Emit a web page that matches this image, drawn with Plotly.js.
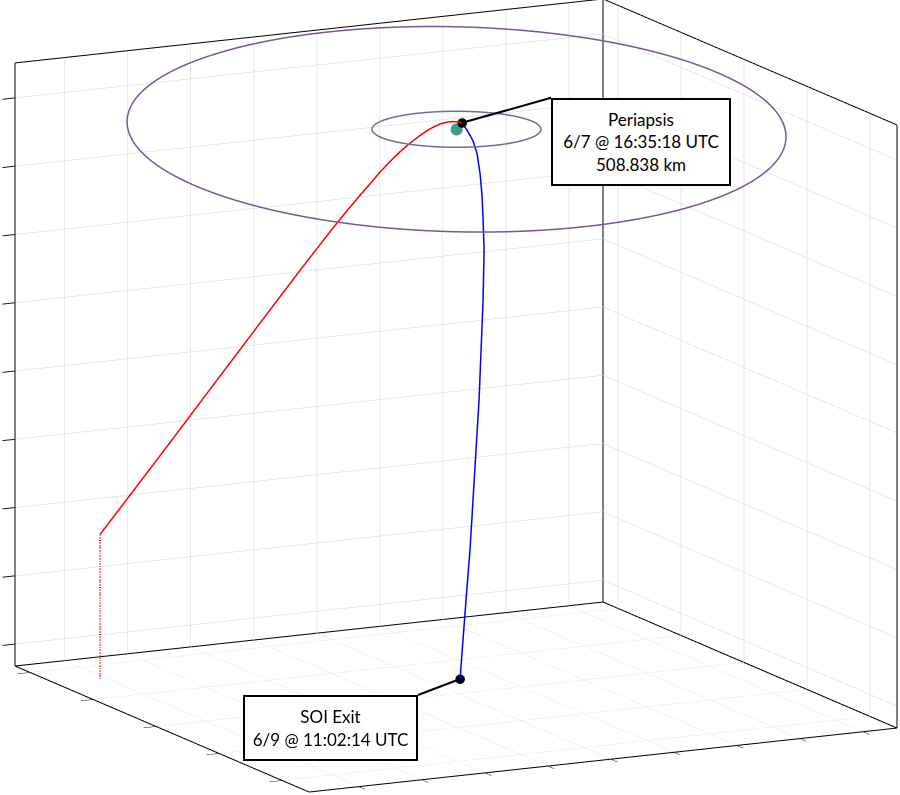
<!DOCTYPE html>
<html><head><meta charset="utf-8">
<script src="https://cdn.plot.ly/plotly-3.0.1.min.js"></script>
<style>html,body{margin:0;padding:0;background:#fff}#chart{width:900px;height:795px}</style>
</head><body><div id="chart"></div>
<script>
// Coordinates are expressed as percent of the plot box along each axis.
const xRange = [0, 100], yRange = [0, 100], zRange = [0, 100];
const xTick0 = 5.79, xDtick = 10.72;
const yTick0 = 5.1,  yDtick = 21.43;
const zTick0 = 3.64, zDtick = 11.32;

const planet    = [49.67, 49.50, 94.00];
const periapsis = [49.01, 50.07, 95.12];
const soiExit   = [43.76, 38.89, 0.00];

// inbound leg (red)
const inX = [92.60, 85.49, 78.38, 72.46, 68.91, 65.34, 63.55, 61.75, 60.55, 59.35, 58.14, 56.91, 55.68, 54.44, 53.44, 52.55, 51.78, 51.00, 50.35, 49.55, 49.01];
const inY = [14.12, 20.29, 26.49, 31.65, 34.75, 37.82, 39.34, 40.85, 41.85, 42.84, 43.83, 44.78, 45.71, 46.64, 47.35, 47.96, 48.46, 48.95, 49.33, 49.78, 50.07];
const inZ = [23.98, 37.57, 51.33, 62.75, 69.57, 76.23, 79.45, 82.54, 84.51, 86.54, 88.37, 90.06, 91.54, 92.89, 93.83, 94.49, 94.94, 95.21, 95.32, 95.28, 95.12];

// outbound leg (blue)
const outX = [49.01, 48.12, 47.37, 46.70, 46.09, 45.60, 45.24, 44.76, 44.37, 44.11, 43.85, 43.73, 43.60, 43.48, 43.48, 43.46, 43.76];
const outY = [50.07, 50.32, 50.51, 50.55, 50.35, 50.04, 49.66, 49.05, 47.93, 46.73, 45.53, 44.26, 42.98, 41.72, 40.37, 39.31, 38.89];
const outZ = [95.12, 93.59, 92.06, 89.85, 86.44, 82.68, 78.93, 73.30, 64.76, 56.22, 47.68, 39.13, 30.59, 22.05, 13.50, 6.67, 0.00];

// orbits: centre + two conjugate semi-diameters
const outerOrbitA = [-43.89, 24.29, -0.83];
const outerOrbitB = [21.27, 42.54, -5.85];
const innerOrbitA = [-11.46, 5.82, 0.00];
const innerOrbitB = [5.70, 11.39, 0.00];

function ellipse(c, a, b, n) {
  const xs = [], ys = [], zs = [];
  for (let i = 0; i <= n; i++) {
    const t = 2 * Math.PI * i / n, ct = Math.cos(t), st = Math.sin(t);
    xs.push(c[0] + a[0] * ct + b[0] * st);
    ys.push(c[1] + a[1] * ct + b[1] * st);
    zs.push(c[2] + a[2] * ct + b[2] * st);
  }
  return {xs, ys, zs};
}
const outer = ellipse(planet, outerOrbitA, outerOrbitB, 240);
const inner = ellipse(planet, innerOrbitA, innerOrbitB, 180);

// box edges (MATLAB-style back box) built from the axis ranges
const [x0, x1] = xRange, [y0, y1] = yRange, [z0, z1] = zRange;
const edgeList = [
  [[x0,y0,z0],[x0,y0,z1]], [[x1,y0,z0],[x1,y0,z1]], [[x0,y1,z0],[x0,y1,z1]],
  [[x0,y0,z1],[x1,y0,z1]], [[x0,y0,z1],[x0,y1,z1]],
  [[x0,y0,z0],[x1,y0,z0]], [[x0,y0,z0],[x0,y1,z0]],
  [[x1,y0,z0],[x1,y1,z0]], [[x0,y1,z0],[x1,y1,z0]]
];
const ex = [], ey = [], ez = [];
edgeList.forEach(e => { e.forEach(p => { ex.push(p[0]); ey.push(p[1]); ez.push(p[2]); }); ex.push(null); ey.push(null); ez.push(null); });

const traces = [
  {type:'scatter3d', mode:'lines', x:ex, y:ey, z:ez, line:{color:'#000000', width:2}, hoverinfo:'skip', showlegend:false},
  {type:'scatter3d', mode:'lines', x:outer.xs, y:outer.ys, z:outer.zs, line:{color:'#7a559e', width:3}, hoverinfo:'skip', showlegend:false},
  {type:'scatter3d', mode:'lines', x:inner.xs, y:inner.ys, z:inner.zs, line:{color:'#687190', width:3}, hoverinfo:'skip', showlegend:false},
  {type:'scatter3d', mode:'lines', x:[inX[0], inX[0]], y:[inY[0], inY[0]], z:[zRange[0], inZ[0]], line:{color:'#ff0000', width:4, dash:'dot'}, hoverinfo:'skip', showlegend:false},
  {type:'scatter3d', mode:'lines', x:inX, y:inY, z:inZ, line:{color:'#ff0000', width:3}, hoverinfo:'skip', showlegend:false},
  {type:'scatter3d', mode:'lines', x:outX, y:outY, z:outZ, line:{color:'#0000ff', width:3}, hoverinfo:'skip', showlegend:false},
  {type:'scatter3d', mode:'markers', x:[planet[0]], y:[planet[1]], z:[planet[2]], marker:{color:'#3f9a8e', size:7, line:{width:0}}, hoverinfo:'skip', showlegend:false},
  {type:'scatter3d', mode:'markers', x:[periapsis[0], soiExit[0]], y:[periapsis[1], soiExit[1]], z:[periapsis[2], soiExit[2]], marker:{color:'#000000', size:5.5, line:{width:0}}, hoverinfo:'skip', showlegend:false}
];

const axisCommon = {
  showbackground:false, showgrid:true, gridcolor:'#d2d2d2', gridwidth:1,
  zeroline:false, showline:false, showticklabels:false, ticks:'outside', ticklen:14, tickwidth:2, tickcolor:'#1a1a1a',
  showspikes:false, title:{text:''}, tickmode:'linear', autorange:false
};
const annFont = {family:'Lato, "Open Sans", sans-serif', size:17, color:'#000'};
const layout = {
  width:900, height:795, margin:{l:0,r:0,t:0,b:0}, paper_bgcolor:'#fff', showlegend:false, hovermode:false,
  scene:{
    domain:{x:[0,1], y:[0,1]},
    aspectmode:'manual', aspectratio:{x:1.6564, y:1.6434, z:1.5539},
    xaxis:Object.assign({}, axisCommon, {range:xRange, tick0:xTick0, dtick:xDtick}),
    yaxis:Object.assign({}, axisCommon, {range:yRange, tick0:yTick0, dtick:yDtick}),
    zaxis:Object.assign({}, axisCommon, {range:zRange, tick0:zTick0, dtick:zDtick}),
    camera:{eye:{x:1.7717, y:3.48186, z:0.85897}, up:{x:0,y:0,z:1}, center:{x:0.01406, y:-0.00586, z:-0.00495}, projection:{type:'orthographic'}},
    dragmode:false,
    annotations:[
      {x:periapsis[0], y:periapsis[1], z:periapsis[2], text:'Periapsis<br>6/7 @ 16:35:18 UTC<br>508.838 km',
       showarrow:true, arrowhead:0, arrowwidth:2, arrowcolor:'#000', ax:89, ay:-25, xanchor:'left', yanchor:'top',
       bordercolor:'#000', borderwidth:2, borderpad:0, bgcolor:'#fff', width:176, height:84, align:'center', font:annFont},
      {x:soiExit[0], y:soiExit[1], z:soiExit[2], text:'SOI Exit<br>6/9 @ 11:02:14 UTC',
       showarrow:true, arrowhead:0, arrowwidth:2, arrowcolor:'#000', ax:-42, ay:16, xanchor:'right', yanchor:'top',
       bordercolor:'#000', borderwidth:2, borderpad:0, bgcolor:'#fff', width:171, height:62, align:'center', font:annFont}
    ]
  }
};
Plotly.newPlot('chart', traces, layout, {displayModeBar:false});
</script></body></html>
